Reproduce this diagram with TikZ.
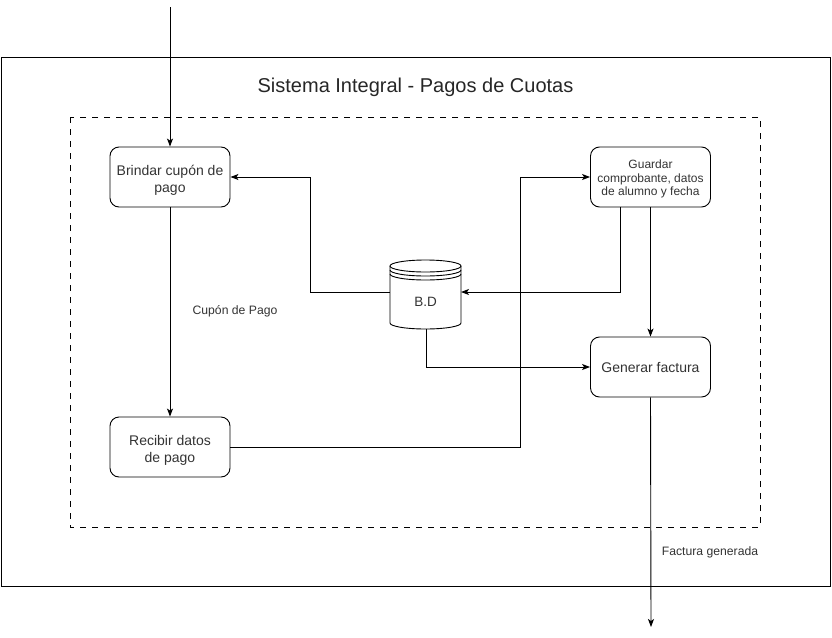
\documentclass[tikz,border=0pt]{standalone}
\usepackage{fontspec}
\setmainfont{Liberation Sans}
\usetikzlibrary{arrows.meta}
\begin{document}
\begin{tikzpicture}[x=1pt,y=-1pt,
  proc/.style={draw,rounded corners=9pt,minimum width=120pt,minimum height=60pt,line width=0.9pt,inner sep=0pt},
  ptext/.style={align=center,font=\fontsize{14}{16.5}\selectfont,text=black!80,inner sep=0pt},
  conn/.style={line width=0.9pt,-{Stealth[length=8pt,width=6pt,inset=2pt]}},
  lbl/.style={font=\fontsize{12.2}{14}\selectfont,text=black!80}]
\useasboundingbox (0,0) rectangle (832,637);
\draw[line width=0.9pt] (1,57) rectangle (830,586);
\node[font=\fontsize{20}{24}\selectfont,text=black!85] (title) at (415.5,87) {Sistema Integral - Pagos de Cuotas};
\draw[line width=0.9pt,dash pattern=on 6pt off 6pt] (70,117) rectangle (760,527);
\node[proc] (brindar) at (170,177) {};
\node[ptext] (brindarT) at ([yshift=-3.5pt]brindar.center) {Brindar cupón de\\pago};
\node[proc] (guardar) at (650.5,177) {};
\node[ptext,font=\fontsize{12}{13.5}\selectfont] (guardarT) at ([yshift=-2pt]guardar.center) {Guardar\\comprobante, datos\\de alumno y fecha};
\node[proc] (recibir) at (170,447) {};
\node[ptext] (recibirT) at ([yshift=-3.5pt]recibir.center) {Recibir datos\\de pago};
\node[proc] (generar) at (650.5,367) {};
\node[ptext] (generarT) at (generar.center) {Generar factura};
% cylinder
\node[minimum width=71pt,minimum height=66pt,inner sep=0pt] (bd) at (425.5,295) {};
\node[font=\fontsize{13.5}{16}\selectfont,text=black!80] (bdt) at (425.5,302) {B.D};
\draw[line width=0.9pt,fill=white] (390,266) arc[start angle=180,end angle=360,x radius=35.5pt,y radius=6pt]
  arc[start angle=0,end angle=180,x radius=35.5pt,y radius=6pt] -- cycle;
\draw[line width=0.9pt] (390,266) -- (390,323) arc[start angle=180,end angle=360,x radius=35.5pt,y radius=6pt] -- (461,266);
\draw[line width=0.9pt] (390,270) arc[start angle=180,end angle=360,x radius=35.5pt,y radius=6pt];
\draw[line width=0.9pt] (390,274) arc[start angle=180,end angle=360,x radius=35.5pt,y radius=6pt];
\coordinate (start) at (170,7);
\coordinate (finish) at (651,627);
\draw[conn] (start) -- (brindar.north);
\draw[conn] (brindar.south) -- (recibir.north);
\node[lbl] (cupon) at (235,311) {Cupón de Pago};
\draw[conn] (bd.west |- 0,292) -- (310,292) -- (310,177) -- (brindar.east);
\draw[conn] (recibir.east) -- (520,447) -- (520,177) -- (guardar.west);
\draw[conn] (620,207) -- (620,292) -- (461,292);
\draw[conn] (guardar.south) -- (generar.north);
\draw[conn] (426,329) -- (426,367) -- (generar.west);
\draw[conn] (generar.south) -- (finish);
\node[lbl] (factura) at (710,552) {Factura generada};
\end{tikzpicture}
\end{document}
